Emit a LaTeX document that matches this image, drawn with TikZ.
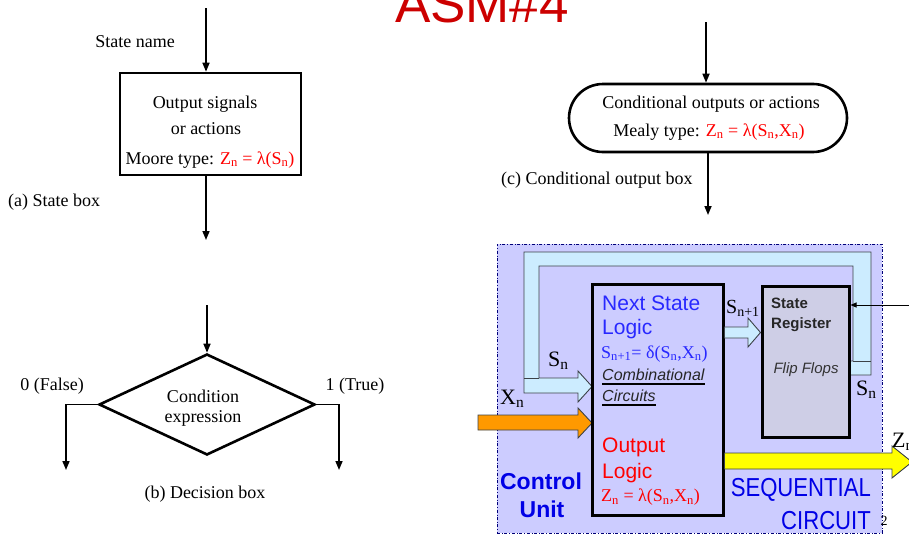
\documentclass[tikz,border=0pt]{standalone}
\usepackage{fontspec}
\setmainfont{Liberation Serif}
\setsansfont{Liberation Sans}
\newfontfamily\narrowsans[FakeStretch=0.85]{Liberation Sans}
\usetikzlibrary{arrows.meta,shapes.geometric,shapes.misc}

\definecolor{titlered}{RGB}{204,0,0}
\definecolor{framebg}{RGB}{204,204,255}
\definecolor{regbg}{RGB}{206,206,230}
\definecolor{pipecyan}{RGB}{204,236,255}
\definecolor{pipeedge}{RGB}{60,66,72}
\definecolor{txtblue}{RGB}{40,40,255}
\definecolor{unitblue}{RGB}{0,0,230}
\definecolor{frameblue}{RGB}{0,0,120}
\definecolor{arroworange}{RGB}{255,153,0}
\definecolor{arrowyellow}{RGB}{255,255,0}

\newcommand{\sbn}[1]{\textsubscript{#1}}

\begin{document}
\begin{tikzpicture}[x=1pt,y=-1pt,
  flow/.style={line width=1.6pt,-{Triangle[length=9pt,width=7pt]}},
  lbl/.style={inner sep=0pt,font=\fontsize{18}{21}\selectfont},
  biglbl/.style={inner sep=0pt,font=\fontsize{22}{25}\selectfont},
  sanslbl/.style={inner sep=0pt,font=\sffamily\fontsize{21}{24}\selectfont},
  smallsans/.style={inner sep=0pt,font=\sffamily\fontsize{15}{18}\selectfont},
  asmbox/.style={draw,line width=2.6pt,inner sep=0pt},
  logicbox/.style={draw,line width=3pt,inner sep=0pt},
  pipe/.style={fill=pipecyan,draw=pipeedge,line width=0.9pt,line join=miter},
  blockarrow/.style={draw=pipeedge,line width=0.9pt,line join=miter}
]
\useasboundingbox (0,0) rectangle (909,546);

% heading
\node[anchor=base,text=titlered,inner sep=0pt,font=\sffamily\fontsize{53}{60}\selectfont] (title) at (482,22) {ASM\#4};

% ---------- (a) state box ----------
\node[asmbox,minimum width=181pt,minimum height=102pt] (sbox) at (210.5,124) {};
\coordinate (sin) at (206,8);
\coordinate (sout) at (206,240);
\draw[flow] (sin) -- (sin |- sbox.north);
\draw[flow] (sout |- sbox.south) -- (sout);
\node[lbl] (sname) at (135,42) {State name};
\node[lbl] (sline1) at (205,104) {Output signals};
\node[lbl] (sline2) at (206,129) {or actions};
\node[lbl] (sline3) at (210,160) {Moore type: \textcolor{red}{Z\sbn{n} = λ(S\sbn{n})}};
\node[lbl,anchor=west] (acap) at (8,202) {(a) State box};

% ---------- (b) decision box ----------
\node[diamond,draw,line width=2.6pt,inner sep=0pt,minimum width=216pt,minimum height=101pt] (dec) at (207,404.5) {};
\coordinate (din) at (207,305);
\coordinate (fend) at (66,470);
\coordinate (tend) at (339,470);
\draw[flow] (din) -- (dec.north);
\draw[flow] (dec.west) -| (fend);
\draw[flow] (dec.east) -| (tend);
\node[lbl] (cond1) at (203,396) {Condition};
\node[lbl] (cond2) at (203,418) {expression};
\node[lbl] (flbl) at (52,386) {0 (False)};
\node[lbl] (tlbl) at (355,386) {1 (True)};
\node[lbl] (bcap) at (205,494) {(b) Decision box};

% ---------- (c) conditional output box ----------
\node[rounded rectangle,draw,line width=2.6pt,inner sep=0pt,minimum width=278pt,minimum height=68pt] (cbox) at (708,118) {};
\coordinate (cin) at (706,22);
\coordinate (cout) at (708,215);
\draw[flow] (cin) -- (cin |- cbox.north);
\draw[flow] (cbox.south) -- (cout);
\node[lbl] (cline1) at (711,104) {Conditional outputs or actions};
\node[lbl] (cline2) at (709,132) {Mealy type: \textcolor{red}{Z\sbn{n} = λ(S\sbn{n},X\sbn{n})}};
\node[lbl,anchor=west] (ccap) at (501,180) {(c) Conditional output box};

% ---------- sequential circuit block ----------
\node[draw=frameblue,dash dot,line width=0.8pt,fill=framebg,minimum width=385pt,minimum height=289pt,inner sep=0pt] (frame) at (689.5,388.5) {};

% feedback path S_n, from the register back to the next state logic
\draw[pipe] (524,252) -- (871,252) -- (871,375) -- (848,375) -- (848,361) -- (853,361)
  -- (853,266) -- (539,266) -- (539,378) -- (578,378) -- (578,371) -- (592,386.5)
  -- (578,402) -- (578,393) -- (524,393) -- cycle;
\draw[draw=pipeedge,line width=0.9pt] (524,378) -- (539,378);
\draw[draw=pipeedge,line width=0.9pt] (853,361) -- (871,361);

% input X_n
\draw[blockarrow,fill=arroworange] (478,415) -- (578,415) -- (578,408) -- (592,423) -- (578,438) -- (578,430) -- (478,430) -- cycle;

% next state / output logic
\node[logicbox,fill=framebg,minimum width=131pt,minimum height=231pt] (nsl) at (657.5,399.5) {};
% state register
\node[logicbox,fill=regbg,minimum width=87pt,minimum height=151pt] (reg) at (805.5,361.5) {};

% S_{n+1} into the register
\draw[blockarrow,fill=pipecyan] (nsl.east |- 0,327) -- (748,327) -- (748,318) -- (reg.west |- 0,332.5) -- (748,347) -- (748,338) -- (nsl.east |- 0,338) -- cycle;

% output Z_n
\draw[blockarrow,fill=arrowyellow] (nsl.east |- 0,453) -- (892,453) -- (892,446) -- (912,462) -- (892,478) -- (892,469) -- (nsl.east |- 0,469) -- cycle;

% clock line into the register
\coordinate (clk) at (912,305);
\draw[line width=1pt,-{Triangle[length=6pt,width=5pt]}] (clk) -- (clk -| reg.east);

% logic block texts
\node[sanslbl,anchor=west,text=txtblue] (nst1) at (602,303) {Next State};
\node[sanslbl,anchor=west,text=txtblue] (nst2) at (602,329) {Logic};
\node[lbl,anchor=west,text=txtblue] (delta) at (601,354) {S\sbn{n+1}= δ(S\sbn{n},X\sbn{n})};
\node[smallsans,anchor=west,font=\sffamily\itshape\fontsize{16}{18}\selectfont,text=black!85] (comb) at (602,375) {Combinational};
\node[smallsans,anchor=west,font=\sffamily\itshape\fontsize{16}{18}\selectfont,text=black!85] (circ) at (602,396) {Circuits};
\draw[line width=1.8pt] ([yshift=-3.5pt]comb.base west) -- ([yshift=-3.5pt]comb.base east);
\draw[line width=1.8pt] ([yshift=-3.5pt]circ.base west) -- ([yshift=-3.5pt]circ.base east);
\node[sanslbl,anchor=west,text=red] (ol1) at (602,447) {Output};
\node[sanslbl,anchor=west,text=red] (ol2) at (602,473) {Logic};
\node[lbl,anchor=west,text=red] (lam) at (601,497) {Z\sbn{n} = λ(S\sbn{n},X\sbn{n})};

% register texts
\node[smallsans,anchor=west,font=\sffamily\bfseries\fontsize{15}{18}\selectfont,text=black!85] (st1) at (771,303) {State};
\node[smallsans,anchor=west,font=\sffamily\bfseries\fontsize{15}{18}\selectfont,text=black!85] (st2) at (771,325) {Register};
\node[smallsans,font=\sffamily\itshape\fontsize{15}{18}\selectfont,text=black!80] (ff) at (806,370) {Flip Flops};

% signal names
\node[biglbl,anchor=west] (snext) at (726,308) {\fontsize{20}{22}\selectfont S\sbn{n+1}};
\node[biglbl,anchor=west] (sleft) at (548,361) {S\sbn{n}};
\node[biglbl,anchor=west] (xin) at (500,399) {X\sbn{n}};
\node[biglbl,anchor=west] (sright) at (856,390) {S\sbn{n}};
\node[biglbl,anchor=west] (zout) at (892,442) {Z\sbn{n}};

% block titles
\node[inner sep=0pt,font=\sffamily\bfseries\fontsize{23}{26}\selectfont,text=unitblue] (cu1) at (541,481) {Control};
\node[inner sep=0pt,font=\sffamily\bfseries\fontsize{23}{26}\selectfont,text=unitblue] (cu2) at (542,509) {Unit};
\node[inner sep=0pt,anchor=east,font=\narrowsans\fontsize{26}{28}\selectfont,text=unitblue] (seq1) at (871,490) {SEQUENTIAL};
\node[inner sep=0pt,anchor=east,font=\narrowsans\fontsize{26}{28}\selectfont,text=unitblue] (seq2) at (871,521) {CIRCUIT};
\node[inner sep=0pt,font=\fontsize{14}{16}\selectfont] (pnum) at (884,521) {2};
\end{tikzpicture}
\end{document}
